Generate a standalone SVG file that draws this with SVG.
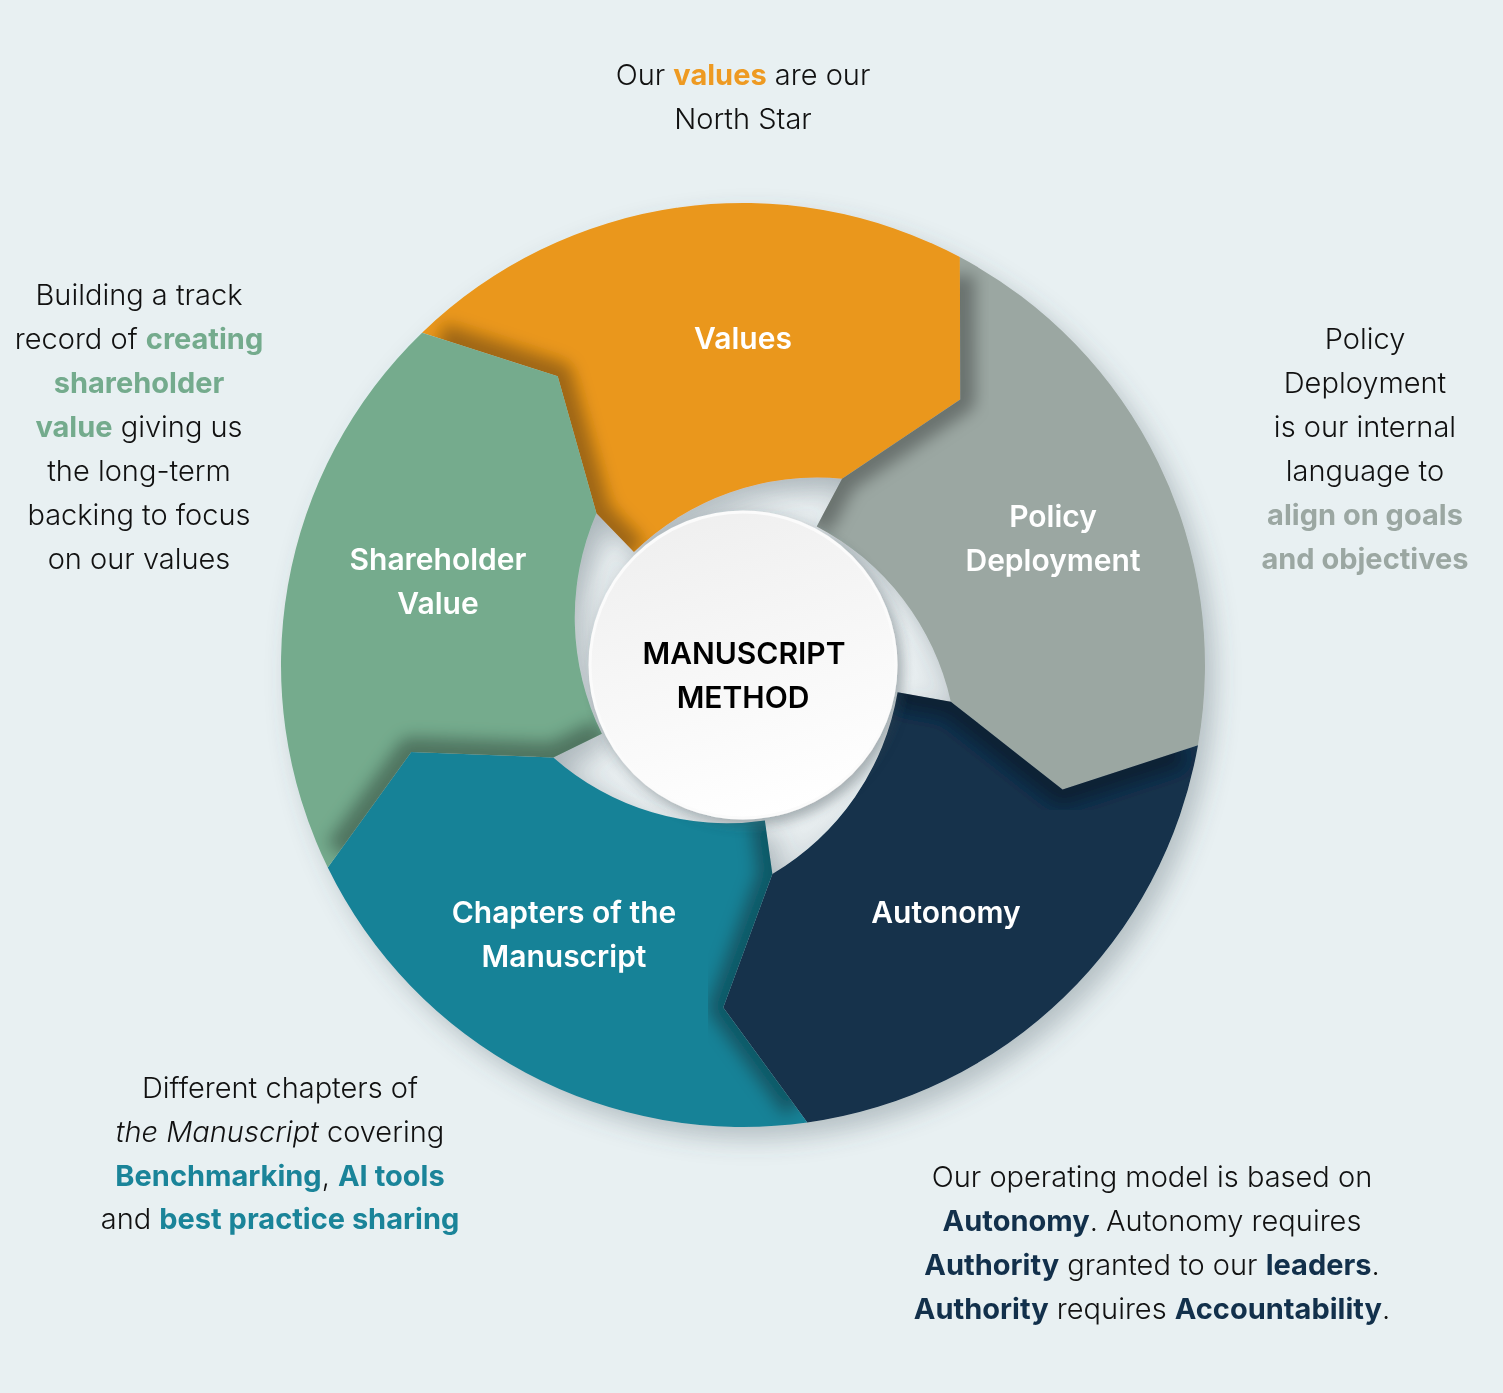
<svg xmlns="http://www.w3.org/2000/svg" xmlns:xlink="http://www.w3.org/1999/xlink" width="1503" height="1393" viewBox="0 0 1503 1393">
<style>
  .body { font-family: "Inter", "Liberation Sans", sans-serif; font-size: 29px; font-weight: 300; fill: #111111; text-anchor: middle; }
  .hl { font-weight: 700; }
  .lbl { font-family: "Inter", "Liberation Sans", sans-serif; font-size: 30px; font-weight: 600; fill: #ffffff; text-anchor: middle; }
  .hub { font-family: "Inter", "Liberation Sans", sans-serif; font-size: 30px; font-weight: 600; fill: #000000; text-anchor: middle; }
  .notch { fill: none; stroke: #000; stroke-opacity: 0.32; stroke-width: 30; stroke-linejoin: round; stroke-linecap: butt; filter: url(#blur); }
</style>
<defs>
  <filter id="ringShadow" x="-20%" y="-20%" width="150%" height="150%">
    <feDropShadow dx="10" dy="12" stdDeviation="12" flood-color="#4f5f66" flood-opacity="0.32"/>
  </filter>
  <filter id="hubShadow" x="-30%" y="-30%" width="160%" height="160%">
    <feDropShadow dx="5" dy="6" stdDeviation="6" flood-color="#3c4a50" flood-opacity="0.35"/>
  </filter>
  <filter id="blur" x="-20%" y="-20%" width="140%" height="140%">
    <feGaussianBlur stdDeviation="8"/>
  </filter>
  <radialGradient id="gapGrad" cx="0.5" cy="0.5" r="0.5">
    <stop offset="0.6" stop-color="#d3dadd"/>
    <stop offset="0.8" stop-color="#e8eef0"/>
    <stop offset="1" stop-color="#d8dfe2"/>
  </radialGradient>
  <linearGradient id="hubGrad" x1="0.3" y1="0" x2="0.6" y2="1">
    <stop offset="0" stop-color="#efefef"/>
    <stop offset="1" stop-color="#ffffff"/>
  </linearGradient>
  <path id="pVal" d="M422.07,332.67 A462,462 0 0 1 959.90,257.08 L960.25,399.57 L842.06,478.70 A262,262 0 0 0 633.94,552.06 L596.43,513.22 L557.70,376.36 Z"/>
  <path id="pPol" d="M959.90,257.08 A462,462 0 0 1 1197.98,745.22 L1062.57,789.59 L950.79,701.64 A262,262 0 0 0 816.71,526.38 L842.06,478.70 L960.25,399.57 Z"/>
  <path id="pAut" d="M1197.98,745.22 A462,462 0 0 1 807.30,1122.50 L723.26,1007.43 L772.37,873.95 A262,262 0 0 0 897.61,692.26 L950.79,701.64 L1062.57,789.59 Z"/>
  <path id="pCha" d="M807.30,1122.50 A462,462 0 0 1 327.76,867.53 L411.23,752.04 L553.36,757.50 A262,262 0 0 0 764.85,820.47 L772.37,873.95 L723.26,1007.43 Z"/>
  <path id="pSha" d="M327.76,867.53 A462,462 0 0 1 422.07,332.67 L557.70,376.36 L596.43,513.22 A262,262 0 0 0 601.89,733.82 L553.36,757.50 L411.23,752.04 Z"/>
  <clipPath id="cVal"><use xlink:href="#pVal"/></clipPath>
  <clipPath id="cPol"><use xlink:href="#pPol"/></clipPath>
  <clipPath id="cAut"><use xlink:href="#pAut"/></clipPath>
  <clipPath id="cCha"><use xlink:href="#pCha"/></clipPath>
  <clipPath id="cSha"><use xlink:href="#pSha"/></clipPath>
</defs>

<rect x="0" y="0" width="1503" height="1393" fill="#E8F0F2"/>

<!-- gap behind the ring -->
<circle cx="743" cy="665" r="213" fill="url(#gapGrad)"/>

<g id="ring" filter="url(#ringShadow)">
  <g id="values">
    <use xlink:href="#pVal" fill="#EA971B"/>
    <g clip-path="url(#cVal)"><polyline class="notch" points="440,338 557.70,376.36 596.43,513.22 633.94,552.06"/></g>
  </g>
  <g id="policy-deployment">
    <use xlink:href="#pPol" fill="#9BA7A2"/>
    <g clip-path="url(#cPol)"><polyline class="notch" points="960,275 960.25,399.57 842.06,478.70 816.71,526.38"/></g>
  </g>
  <g id="autonomy">
    <use xlink:href="#pAut" fill="#12304B"/>
    <g clip-path="url(#cAut)"><polyline class="notch" points="1180,751 1062.57,789.59 950.79,701.64 897.61,692.26"/></g>
  </g>
  <g id="chapters">
    <use xlink:href="#pCha" fill="#188297"/>
    <g clip-path="url(#cCha)"><polyline class="notch" points="796,1107 723.26,1007.43 772.37,873.95 764.85,820.47"/></g>
  </g>
  <g id="shareholder-value">
    <use xlink:href="#pSha" fill="#74AB8D"/>
    <g clip-path="url(#cSha)"><polyline class="notch" points="339,852 411.23,752.04 553.36,757.50 601.89,733.82"/></g>
  </g>
</g>

<g id="segment-labels">
  <text class="lbl" x="743" y="349">Values</text>
  <text class="lbl" x="1053" y="527">Policy</text>
  <text class="lbl" x="1053" y="571">Deployment</text>
  <text class="lbl" x="946" y="923">Autonomy</text>
  <text class="lbl" x="564" y="923">Chapters of the</text>
  <text class="lbl" x="564" y="967">Manuscript</text>
  <text class="lbl" x="438" y="570">Shareholder</text>
  <text class="lbl" x="438" y="614">Value</text>
</g>

<g id="hub">
  <circle cx="743" cy="665" r="153" fill="url(#hubGrad)" stroke="#fbfbfb" stroke-width="3" filter="url(#hubShadow)"/>
  <text class="hub" x="744" y="664">MANUSCRIPT</text>
  <text class="hub" x="743" y="708">METHOD</text>
</g>

<g id="note-values">
  <text class="body" x="743" y="85">Our <tspan class="hl" fill="#EE9A22">values</tspan> are our</text>
  <text class="body" x="743" y="129">North Star</text>
</g>

<g id="note-shareholder">
  <text class="body" x="139" y="305">Building a track</text>
  <text class="body" x="139" y="349">record of <tspan class="hl" fill="#74AB8D">creating</tspan></text>
  <text class="body" x="139" y="393"><tspan class="hl" fill="#74AB8D">shareholder</tspan></text>
  <text class="body" x="139" y="437"><tspan class="hl" fill="#74AB8D">value</tspan> giving us</text>
  <text class="body" x="139" y="481">the long-term</text>
  <text class="body" x="139" y="525">backing to focus</text>
  <text class="body" x="139" y="569">on our values</text>
</g>

<g id="note-policy">
  <text class="body" x="1365" y="349">Policy</text>
  <text class="body" x="1365" y="393">Deployment</text>
  <text class="body" x="1365" y="437">is our internal</text>
  <text class="body" x="1365" y="481">language to</text>
  <text class="body" x="1365" y="525"><tspan class="hl" fill="#9BA7A2">align on goals</tspan></text>
  <text class="body" x="1365" y="569"><tspan class="hl" fill="#9BA7A2">and objectives</tspan></text>
</g>

<g id="note-chapters">
  <text class="body" x="280" y="1098">Different chapters of</text>
  <text class="body" x="280" y="1142"><tspan font-style="italic">the Manuscript</tspan> covering</text>
  <text class="body" x="280" y="1186"><tspan class="hl" fill="#1A8499">Benchmarking</tspan>, <tspan class="hl" fill="#1A8499">AI tools</tspan></text>
  <text class="body" x="280" y="1229">and <tspan class="hl" fill="#1A8499">best practice sharing</tspan></text>
</g>

<g id="note-autonomy">
  <text class="body" x="1152" y="1187">Our operating model is based on</text>
  <text class="body" x="1152" y="1231"><tspan class="hl" fill="#12304B">Autonomy</tspan>. Autonomy requires</text>
  <text class="body" x="1152" y="1275"><tspan class="hl" fill="#12304B">Authority</tspan> granted to our <tspan class="hl" fill="#12304B">leaders</tspan>.</text>
  <text class="body" x="1152" y="1319"><tspan class="hl" fill="#12304B">Authority</tspan> requires <tspan class="hl" fill="#12304B">Accountability</tspan>.</text>
</g>
</svg>
